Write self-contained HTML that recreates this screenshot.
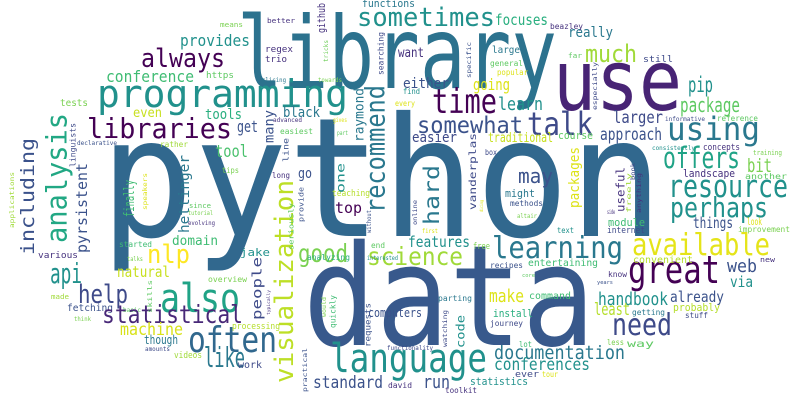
<!DOCTYPE html>
<html><head><meta charset="utf-8"><style>
html,body{margin:0;padding:0;background:#fff;}
svg{display:block;}
text{font-family:"DejaVu Sans Mono","Liberation Mono",monospace;}
</style></head>
<body>
<svg id="cloud" width="800" height="400" viewBox="0 0 800 400" xmlns="http://www.w3.org/2000/svg">
<rect width="800" height="400" fill="#fff"/>
</svg>
<script>
// horizontal words: [word, x0, x1, baseline, fontSize, color]
const hWords = [
["python",100,663,236,166,"#31688e"],
["data",303,595,345,140,"#38598c"],
["library",237,557,88,100,"#2c728e"],
["use",553,682,110,84,"#482475"],
["programming",97,348,107,38,"#21918c"],
["libraries",87,232,138,28,"#440154"],
["always",141,225,67,26,"#440154"],
["provides",180,250,46,16,"#21918c"],
["conference",106,194,82,16,"#3fbc73"],
["tests",60,88,106,10,"#7ad151"],
["even",133,162,117,13,"#c8e020"],
["tools",205,242,119,14,"#29af7f"],
["black",283,320,117,14,"#2a788e"],
["get",237,258,132,16,"#3b528b"],
["easiest",280,313,134,8,"#5ec962"],
["tool",215,248,157,17,"#4ac16d"],
["rather",160,188,147,8,"#a0da39"],
["means",220,243,27,7,"#7ad151"],
["better",267,295,23,7,"#46327e"],
["regex",265,293,52,9,"#46327e"],
["trio",265,287,62,9,"#46327e"],
["https",206,234,78,9,"#5ec962"],
["slicing",262,286,82,6,"#2a788e"],
["towards",318,342,82,6,"#7ad151"],
["advanced",273,302,122,6,"#46327e"],
["gives",333,347,122,6,"#dde318"],
["part",337,348,135,6,"#5ec962"],
["declarative",77,117,145,6,"#3b528b"],
["long",272,290,178,8,"#46327e"],
["tips",222,239,173,8,"#7ad151"],
["teaching",332,370,196,9,"#b5de2b"],
["go",298,312,178,14,"#3b528b"],
["functions",362,415,7,11,"#2a788e"],
["top",335,362,213,15,"#440154"],
["since",189,211,208,7,"#5ec962"],
["tutorial",188,213,215,6,"#7ad151"],
["evolving",188,215,225,6,"#46327e"],
["nlp",147,190,263,26,"#fde725"],
["domain",172,218,245,13,"#3fbc73"],
["started",119,152,247,8,"#3fbc73"],
["various",38,78,258,9,"#46327e"],
["jake",240,270,256,11,"#21918c"],
["good",298,348,262,25,"#7ad151"],
["science",367,463,265,25,"#a0da39"],
["end",371,385,248,8,"#5ec962"],
["analyzing",307,350,260,8,"#29af7f"],
["interested",367,398,260,6,"#21918c"],
["talks",127,143,261,6,"#7ad151"],
["api",50,82,283,28,"#21918c"],
["natural",117,170,277,15,"#c8e020"],
["overview",208,247,282,8,"#7ad151"],
["help",78,128,303,26,"#3e4a89"],
["made",51,69,299,7,"#a0da39"],
["also",160,240,312,40,"#20a386"],
["fetching",67,113,311,10,"#3b528b"],
["basic",123,141,312,6,"#5ec962"],
["think",74,91,321,6,"#7ad151"],
["computers",368,422,317,12,"#3b528b"],
["statistical",102,243,323,25,"#482878"],
["machine",120,183,335,17,"#d8e219"],
["processing",232,280,329,9,"#b5de2b"],
["often",188,277,352,36,"#31688e"],
["though",144,178,344,12,"#2a788e"],
["amounts",145,170,351,6,"#3e4a89"],
["videos",174,202,358,9,"#a0da39"],
["like",204,245,367,28,"#2a788e"],
["work",238,262,368,10,"#3e4a89"],
["standard",313,383,388,17,"#3b528b"],
["language",330,487,372,40,"#21918c"],
["david",388,412,388,8,"#46327e"],
["functionality",387,433,350,6,"#3e4a89"],
["methods",510,543,206,8,"#3b528b"],
["altair",517,537,218,6,"#7ad151"],
["perhaps",670,768,217,28,"#21918c"],
["things",693,733,228,15,"#3b528b"],
["look",747,762,225,10,"#dde318"],
["module",608,645,226,11,"#3fbc73"],
["internet",607,645,233,9,"#3e4a89"],
["improvement",738,790,232,8,"#7ad151"],
["text",557,574,233,8,"#21918c"],
["first",422,438,233,6,"#dde318"],
["side",607,615,214,6,"#46327e"],
["features",408,470,247,15,"#21918c"],
["free",473,490,249,9,"#7ad151"],
["learning",492,623,258,30,"#2a788e"],
["available",632,770,255,30,"#e5e419"],
["great",628,720,283,38,"#440154"],
["web",727,757,272,18,"#3b528b"],
["via",730,753,287,15,"#21918c"],
["new",760,775,262,7,"#46327e"],
["convenient",633,693,263,10,"#b5de2b"],
["entertaining",528,598,266,10,"#3fbc73"],
["recipes",490,523,268,8,"#3b528b"],
["core",522,535,277,5,"#5ec962"],
["know",608,627,277,8,"#46327e"],
["years",597,613,284,5,"#3b528b"],
["make",489,524,302,18,"#dde318"],
["command",529,571,299,10,"#3fbc73"],
["parting",438,472,301,8,"#2a788e"],
["handbook",598,668,305,18,"#21918c"],
["already",670,724,302,15,"#3b528b"],
["least",594,630,315,17,"#b5de2b"],
["getting",632,665,315,8,"#2a788e"],
["probably",673,720,311,11,"#b5de2b"],
["stuff",685,708,318,8,"#3e4a89"],
["install",493,533,317,11,"#29af7f"],
["journey",490,523,326,8,"#3e4a89"],
["need",612,672,335,30,"#3e4a89"],
["lot",519,532,347,8,"#3fbc73"],
["less",607,624,345,8,"#7ad151"],
["way",627,654,347,10,"#5ec962"],
["documentation",494,625,359,19,"#2a788e"],
["conferences",494,590,370,17,"#21918c"],
["ever",515,539,377,9,"#3e4a89"],
["tour",542,558,377,8,"#dde318"],
["run",423,450,388,18,"#3b528b"],
["statistics",470,528,385,11,"#21918c"],
["toolkit",445,477,393,8,"#46327e"],
["really",568,613,37,14,"#2a788e"],
["much",585,637,62,24,"#a0da39"],
["still",643,673,62,9,"#3e4a89"],
["far",568,582,58,7,"#5ec962"],
["large",492,520,53,10,"#2a788e"],
["want",398,424,57,13,"#46327e"],
["general",490,523,66,8,"#5ec962"],
["popular",497,528,75,8,"#dde318"],
["either",403,449,88,14,"#3b528b"],
["going",473,510,90,16,"#dde318"],
["find",403,420,94,8,"#21918c"],
["every",395,415,106,8,"#dde318"],
["pip",688,713,92,21,"#21918c"],
["package",680,740,112,20,"#5ec962"],
["time",432,497,113,34,"#440154"],
["learn",498,543,110,18,"#21918c"],
["talk",527,593,135,32,"#3e4a89"],
["somewhat",417,523,133,23,"#3b528b"],
["sometimes",357,495,26,26,"#21918c"],
["focuses",495,548,25,15,"#29af7f"],
["beazley",550,583,29,8,"#46327e"],
["larger",613,663,123,17,"#3e4a89"],
["informative",665,705,121,6,"#3e4a89"],
["reference",717,758,121,8,"#5ec962"],
["using",667,760,140,32,"#2a788e"],
["approach",600,662,140,17,"#3b528b"],
["easier",412,457,142,14,"#3e4a89"],
["traditional",488,553,142,13,"#c8e020"],
["course",558,593,139,11,"#5ec962"],
["box",485,497,155,8,"#3e4a89"],
["concepts",703,740,150,9,"#46327e"],
["consistently",652,695,150,6,"#21918c"],
["training",753,782,155,7,"#7ad151"],
["offers",663,740,168,29,"#20a386"],
["bit",747,772,172,19,"#7ad151"],
["landscape",683,735,177,11,"#46327e"],
["another",745,787,179,8,"#5ec962"],
["resource",668,788,197,31,"#21918c"],
["may",518,553,183,20,"#3b528b"],
["might",505,535,197,11,"#2a788e"]
];
// vertical words (read bottom-to-top): [word, x0, x1, y0, y1, color]
const vWords = [
["github",318,327,3,33,"#46327e"],
["searching",378,385,32,75,"#3e4a89"],
["tricks",324,329,40,62,"#6ece58"],
["many",265,276,110,143,"#3b528b"],
["raymond",355,366,88,142,"#2a788e"],
["recommend",367,390,85,213,"#2a788e"],
["line",283,290,138,162,"#3b528b"],
["analysis",48,72,113,243,"#22a884"],
["including",22,38,138,255,"#3b528b"],
["applications",10,15,172,228,"#a0da39"],
["linguists",70,77,123,167,"#3e4a89"],
["pyrsistent",77,90,163,253,"#3b528b"],
["finally",125,137,180,217,"#3fbc73"],
["hettinger",180,192,155,233,"#2a788e"],
["one",337,347,163,193,"#21918c"],
["visualization",276,298,180,383,"#bddf26"],
["provide",299,305,187,222,"#3b528b"],
["seriously",289,295,203,250,"#5ec962"],
["speakers",143,148,173,210,"#dde318"],
["without",367,372,210,233,"#3b528b"],
["people",253,264,257,320,"#3e4a89"],
["typically",267,271,290,315,"#46327e"],
["skills",148,153,280,313,"#5ec962"],
["would",322,327,297,317,"#7ad151"],
["quickly",330,337,295,328,"#3fbc73"],
["requests",365,372,303,347,"#3b528b"],
["practical",303,308,348,392,"#3b528b"],
["hard",425,443,165,225,"#2a788e"],
["online",413,418,200,225,"#3e4a89"],
["vanderplas",470,478,133,210,"#3e4a89"],
["dicing",480,484,200,212,"#dde318"],
["packages",570,582,147,208,"#dde318"],
["useful",617,627,167,212,"#46327e"],
["freely",627,632,173,213,"#a0da39"],
["book",631,636,163,180,"#3e4a89"],
["anything",637,642,173,213,"#46327e"],
["code",457,467,315,348,"#21918c"],
["watching",443,448,310,347,"#3e4a89"],
["specific",467,472,42,78,"#3b528b"],
["especially",593,598,62,110,"#3e4a89"]
];
const NS = "http://www.w3.org/2000/svg";
const svg = document.getElementById("cloud");
hWords.forEach(function(w){
  const t = document.createElementNS(NS, "text");
  t.setAttribute("x", w[1]);
  t.setAttribute("y", w[3]);
  t.setAttribute("font-size", w[4]);
  t.setAttribute("fill", w[5]);
  t.setAttribute("textLength", w[2] - w[1]);
  t.setAttribute("lengthAdjust", "spacingAndGlyphs");
  t.textContent = w[0];
  
  
  svg.appendChild(t);
});
vWords.forEach(function(w){
  const fs = (w[2] - w[1]) / 0.85;
  const bx = w[2] - 0.2 * fs;
  const t = document.createElementNS(NS, "text");
  t.setAttribute("x", bx);
  t.setAttribute("y", w[4]);
  t.setAttribute("font-size", fs.toFixed(1));
  t.setAttribute("fill", w[5]);
  t.setAttribute("textLength", w[4] - w[3]);
  t.setAttribute("lengthAdjust", "spacingAndGlyphs");
  t.setAttribute("transform", "rotate(-90 " + bx + " " + w[4] + ")");
  t.textContent = w[0];
  
  
  svg.appendChild(t);
});
</script>
</body></html>
